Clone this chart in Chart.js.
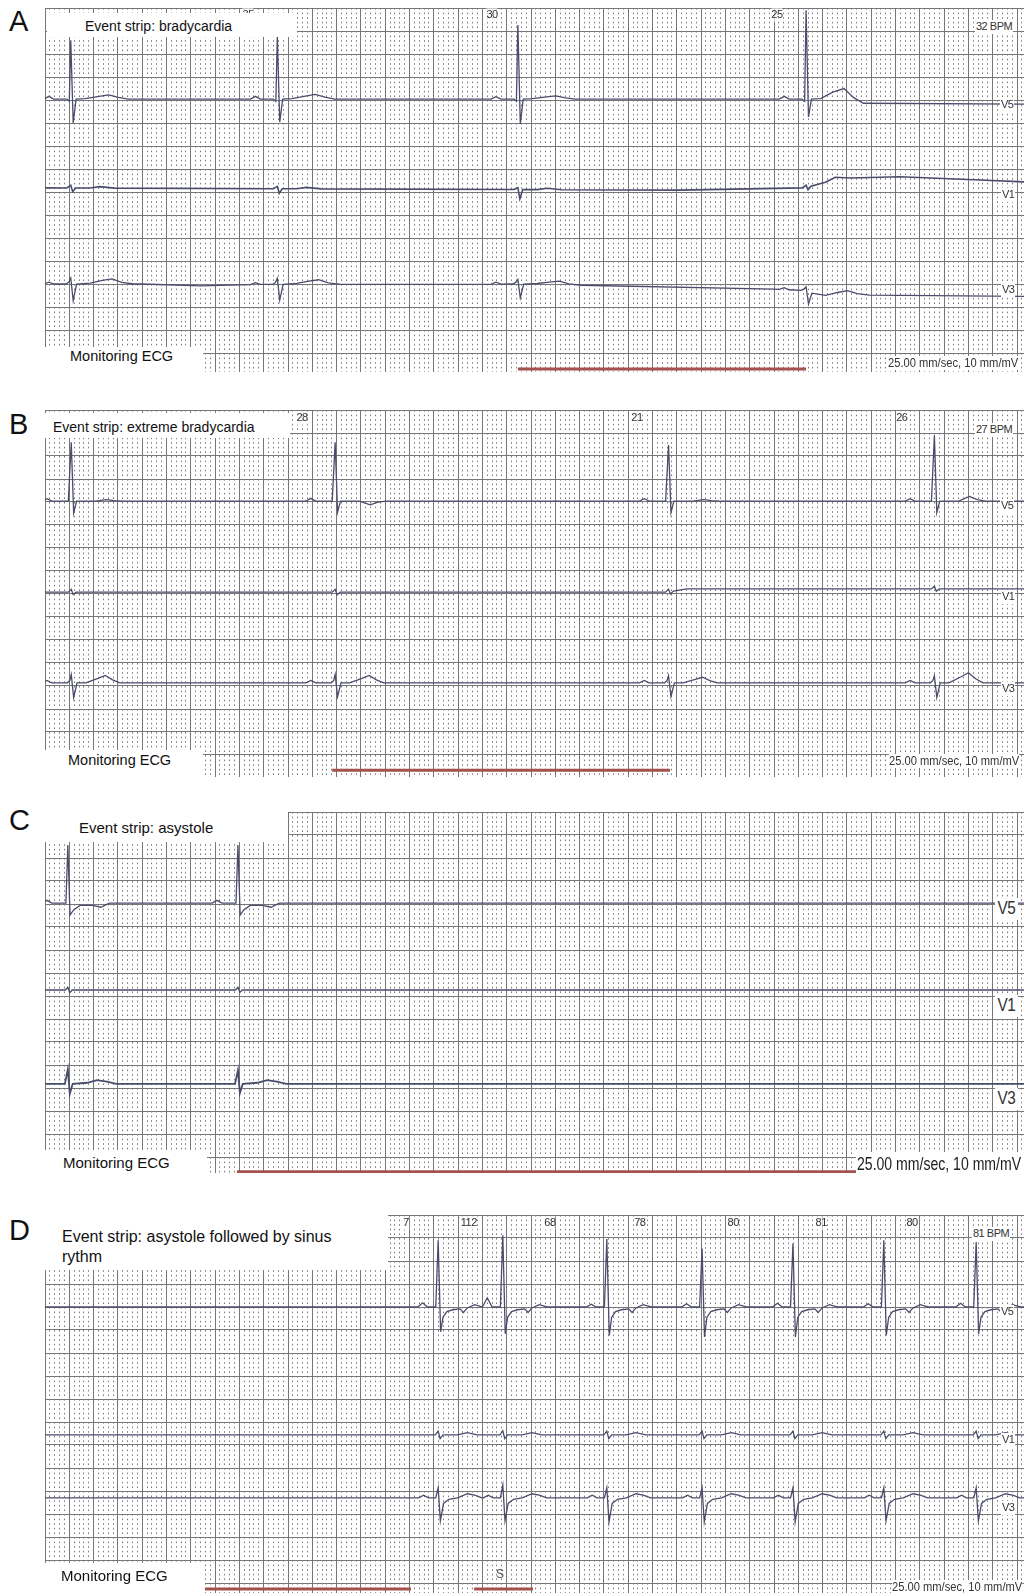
<!DOCTYPE html>
<html><head><meta charset="utf-8">
<script src="https://cdn.jsdelivr.net/npm/chart.js@4.4.0/dist/chart.umd.min.js"></script>
<style>
body{margin:0;background:#fff;}
#page{position:relative;width:1024px;height:1593px;overflow:hidden;font-family:"Liberation Sans",Arial,sans-serif;}
</style></head><body><div id="page"></div>
<script>
// ================= DATA (x in mm of paper at 25 mm/s, y in mm at 10 mm/mV) =================
// ---- Panel A : bradycardia ----
const A_beats = [5.3, 47.8, 97.3, 156.6];
const A_V5_R = [12.8, 13.5, 16.1, 19.3];
const A_V5_S = [-5.2, -5.0, -5.4, -3.9];
const A_V5_T = [0.9, 1.0, 0.7, 2.8];
const A_V5_P = [0.6, 0.6, 0.5, 0.6];
const A_V5_base = [[0,60.2],[161,60.2],[167,59.3],[201.5,59.1]];
const A_V1_R = [0.6, 0.5, 0.4, 0.5];
const A_V1_S = [-0.8, -1.0, -2.0, -0.6];
const A_V1_T = [0.3, 0.3, 0.3, 0.5];
const A_V1_base = [[0,40.9],[130.7,40.4],[156.4,40.9],[163.6,43.0],[175.9,43.3],[192.4,42.6],[201.5,42.2]];
const A_V3_R = [1.3, 1.3, 1.0, 1.0];
const A_V3_S = [-3.6, -3.4, -3.0, -2.6];
const A_V3_T = [1.1, 1.0, 0.8, 1.0];
const A_V3_P = [0.4, 0.4, 0.4, 0.4];
const A_V3_base = [[0,20.0],[20,20.0],[32,19.6],[44,19.9],[97,20.0],[150,18.9],[156,18.6],[160,17.3],[166,17.6],[201.5,17.3]];
const A_rateX = [41.8, 92.0, 150.6];
const A_rateVal = ['35', '30', '25'];
const A_rateNow = '32 BPM';
const A_events = [[97.3, 156.6]];

// ---- Panel B : extreme bradycardia ----
const B_beats = [5.4, 59.7, 128.3, 183.0];
const B_V5_R = [12.8, 12.8, 12.2, 14.3];
const B_V5_S = [-2.6, -2.4, -2.5, -2.5];
const B_V5_T = [0.3, -0.8, 0.3, 1.0];
const B_V5_P = [0.5, 0.6, 0.5, 0.5];
const B_V5_base = [[0,60.2],[201.5,60.2]];
const B_V1_R = [0.6, 0.6, 0.6, 0.6];
const B_V1_S = [-0.5, -0.6, -0.5, -0.5];
const B_V1_base = [[0,40.4],[128,40.4],[132,41.1],[201.5,41.1]];
const B_V3_R = [1.8, 1.8, 1.5, 1.5];
const B_V3_S = [-3.2, -3.0, -3.0, -3.2];
const B_V3_T = [1.6, 1.6, 1.2, 2.2];
const B_V3_P = [0.5, 0.5, 0.5, 0.5];
const B_V3_base = [[0,20.7],[201.5,20.7]];
const B_rateX = [52.9, 121.8, 176.3];
const B_rateVal = ['28', '21', '26'];
const B_rateNow = '27 BPM';
const B_events = [[59.1, 128.6]];

// ---- Panel C : asystole ----
const C_beats = [4.7, 39.7];
const C_V5_R = [12.6, 12.6];
const C_V5_S = [-2.6, -2.6];
const C_V5_P = [0.6, 0.6];
const C_V5_base = [[0,60.2],[201.5,60.2]];
const C_V1_R = [0.6, 0.6];
const C_V1_S = [-0.6, -0.5];
const C_V1_base = [[0,41.3],[201.5,41.3]];
const C_V3_R = [3.2, 3.0];
const C_V3_S = [-2.2, -2.0];
const C_V3_T = [0.8, 0.8];
const C_V3_base = [[0,20.9],[201.5,20.9]];
const C_events = [[39.5, 166.9]];

// ---- Panel D : asystole followed by sinus rhythm ----
const D_beats = [80.9, 94.2, 115.6, 135.2, 153.9, 172.6, 191.6];
const D_V5_R = [14.5, 15.6, 14.8, 12.7, 13.8, 14.5, 14.1];
const D_V5_S = [-5.4, -5.8, -6.2, -6.5, -6.5, -6.2, -5.8];
const D_V5_P = [0.9, 2.0, 0.6, 0.7, 0.8, 0.7, 0.8];
const D_V5_base = [[0,60.0],[201.5,60.0]];
const D_V1_R = [0.8, 0.9, 0.8, 0.8, 0.8, 0.8, 0.8];
const D_V1_S = [-0.8, -0.8, -0.8, -0.8, -0.8, -0.8, -0.8];
const D_V1_base = [[0,32.2],[201.5,32.2]];
const D_V3_R = [2.2, 2.8, 2.2, 2.2, 2.2, 2.2, 2.2];
const D_V3_S = [-5.0, -5.0, -5.2, -5.2, -5.2, -5.0, -5.0];
const D_V3_base = [[0,18.5],[201.5,18.5]];
const D_rateX = [74.3, 87.2, 103.9, 122.4, 141.6, 159.7, 178.4];
const D_rateVal = ['7', '112', '68', '78', '80', '81', '80'];
const D_rateNow = '81 BPM';
const D_events = [[0, 75.3], [88.3, 100.4]];

// Beat shapes read from the strips: [dx mm, dy mm] or [dx, key of per-beat array, factor]
const TPL_A_V5 = [[-5.5,0],[-4.5,'P'],[-3.5,0],[-0.8,0],[-0.3,-0.5],[0,'R'],[0.5,'S'],[1.1,0],[3,0.1],[5.5,'T',0.6],[7.8,'T'],[9.8,'T',0.4],[11.8,0]];
const TPL_A_V1 = [[-0.8,0],[0,'R'],[0.4,'S'],[1.0,0],[4,0],[6,'T'],[9,0]];
const TPL_A_V3 = [[-5.5,0],[-4.5,'P'],[-3.5,0],[-1.0,0],[-0.4,0.4],[0,'R'],[0.5,'S'],[1.2,0],[4,0.2],[6.5,'T',0.7],[8.5,'T'],[10.5,'T',0.3],[13,0]];
const TPL_B_V5 = [[-6,0],[-5,'P'],[-4,0],[-0.6,0],[0,'R'],[0.5,'S'],[1.1,0],[5,0],[7.2,'T'],[8.8,'T',0.3],[10.5,0]];
const TPL_B_V1 = [[-0.6,0],[0,'R'],[0.4,'S'],[1.0,0]];
const TPL_B_V3 = [[-6,0],[-5,'P'],[-4,0],[-0.8,0],[-0.3,0.5],[0,'R'],[0.5,'S'],[1.2,0],[3,0],[5.5,'T',0.6],[7,'T'],[8.5,'T',0.4],[10,0]];
const TPL_C_V5 = [[-5.3,0],[-4.3,'P'],[-3.3,0],[-0.4,0],[0,'R'],[0.45,'S'],[1.2,-1.5],[2.5,-0.5],[5,-0.5],[6.8,-0.9],[8.5,0]];
const TPL_C_V1 = [[-0.5,0],[0,'R'],[0.4,'S'],[0.9,0]];
const TPL_C_V3 = [[-0.6,0],[0,'R'],[0.4,'S'],[1.0,0],[4,'T',0.3],[6,'T'],[8,'T',0.6],[10,0]];
const TPL_D_V5 = [[-4.2,0],[-3.2,'P'],[-2.2,0],[-0.5,0],[0,'R'],[0.5,'S'],[1.0,-2.2],[1.8,-1.0],[3,-0.6],[4.5,-0.4],[5.2,-1.2],[6,-0.2],[7.5,0.5],[8.5,0.2],[9.2,0]];
const TPL_D_V1 = [[-0.6,0],[0,'R'],[0.4,'S'],[1.0,0],[4,0],[6,0.5],[8,0]];
const TPL_D_V3 = [[-4,0],[-3,0.6],[-2,0],[-0.5,0],[0,'R'],[0.45,'S'],[1.1,-1.2],[2.2,-0.3],[4,0],[6,0.9],[7.5,0.6],[9,0]];

// ================= RENDERING =================
const page = document.getElementById('page');
const MMX = 4.86, MMY = 4.6, GX = 45, GW = 979;
const TRACE = '#4a4c6c', RED = '#a4524e';
const FONT = '"Liberation Sans", Arial, sans-serif';

function mk(css, txt){ const e=document.createElement('div'); e.style.position='absolute'; Object.assign(e.style, css); if(txt!=null) e.textContent=txt; page.appendChild(e); return e; }
function box(l,t,w,h){ return mk({left:l+'px',top:t+'px',width:w+'px',height:h+'px',background:'#fff'}); }
function text(s,l,cy,size,extra){ return mk(Object.assign({left:l+'px',top:(cy-size*0.6)+'px',fontSize:size+'px',lineHeight:(size*1.2)+'px',whiteSpace:'nowrap',color:'#111',fontFamily:FONT}, extra||{}), s); }

function baseAt(base, x){
  if (x <= base[0][0]) return base[0][1];
  for (let i=1;i<base.length;i++){ const [x1,y1]=base[i]; if (x<=x1){ const [x0,y0]=base[i-1]; return y0+(y1-y0)*(x-x0)/(x1-x0);} }
  return base[base.length-1][1];
}
function buildTrace(beats, L){
  const tpl=L.tpl, lo=tpl[0][0], hi=tpl[tpl.length-1][0];
  const pts=[];
  L.base.forEach(([x,y])=>{ if(!beats.some(b=>x>b+lo && x<b+hi)) pts.push({x,y}); });
  beats.forEach((b,i)=>tpl.forEach(([dx,v,f])=>{
    const dy = typeof v==='number' ? v : L[v][i]*(f===undefined?1:f);
    pts.push({x:b+dx, y:baseAt(L.base,b+dx)+dy});
  }));
  pts.sort((p,q)=>p.x-q.x);
  return pts;
}

function panel(cfg){
  const cv=document.createElement('canvas');
  cv.width=GW; cv.height=cfg.h;
  Object.assign(cv.style,{position:'absolute',left:GX+'px',top:cfg.top+'px',width:GW+'px',height:cfg.h+'px'});
  page.appendChild(cv);
  const xMax=GW/MMX, yMax=80, yMin=80-cfg.h/MMY;
  const xt=[]; for(let v=0; v<=xMax; v++) xt.push(v);
  const yt=[]; for(let v=Math.ceil(yMin); v<=yMax; v++) yt.push(v);
  const ds=cfg.leads.map(L=>({data:buildTrace(cfg.beats,L),borderColor:TRACE,borderWidth:L.w||1.3,pointRadius:0,showLine:true,tension:0}));
  cfg.events.forEach(([a,b])=>ds.push({data:[{x:a,y:cfg.barY},{x:b,y:cfg.barY}],borderColor:RED,borderWidth:3,pointRadius:0,showLine:true}));
  const major = c => c.tick && Math.round(c.tick.value)%5===0;
  const chart = new Chart(cv,{type:'scatter',data:{datasets:ds},options:{
    animation:false,responsive:false,devicePixelRatio:1,events:[],
    layout:{padding:0},
    plugins:{legend:{display:false},tooltip:{enabled:false}},
    scales:{
      x:{type:'linear',min:0,max:xMax,afterBuildTicks:s=>{s.ticks=xt.map(v=>({value:v}));},
         ticks:{display:false},
         grid:{drawTicks:false,lineWidth:1,color:c=>major(c)?'#777777':'#7c7c7c'},
         border:{display:false,dash:c=>major(c)?[]:[1.6,MMY-1.6]}},
      y:{type:'linear',min:yMin,max:yMax,afterBuildTicks:s=>{s.ticks=yt.map(v=>({value:v}));},
         ticks:{display:false},
         grid:{drawTicks:false,lineWidth:1,color:c=>major(c)?'#777777':'rgba(0,0,0,0)'},
         border:{display:false}}
    }}});
  (cfg.rateX||[]).forEach((t,i)=>{
    const px=GX+chart.scales.x.getPixelForValue(t);
    text(cfg.rateVal[i],px,cfg.rateY,11,{transform:'translateX(-50%)',color:'#333',letterSpacing:'-0.5px',background:'rgba(255,255,255,0.6)'});
  });
  return chart;
}

const L = (tpl,base,extra)=>Object.assign({tpl,base},extra);

panel({top:8,h:364,beats:A_beats,events:A_events,barY:1.5,rateX:A_rateX,rateVal:A_rateVal,rateY:15,leads:[
  L(TPL_A_V5,A_V5_base,{R:A_V5_R,S:A_V5_S,T:A_V5_T,P:A_V5_P}),
  L(TPL_A_V1,A_V1_base,{R:A_V1_R,S:A_V1_S,T:A_V1_T,w:1.6}),
  L(TPL_A_V3,A_V3_base,{R:A_V3_R,S:A_V3_S,T:A_V3_T,P:A_V3_P})]});
panel({top:410,h:367,beats:B_beats,events:B_events,barY:1.7,rateX:B_rateX,rateVal:B_rateVal,rateY:418,leads:[
  L(TPL_B_V5,B_V5_base,{R:B_V5_R,S:B_V5_S,T:B_V5_T,P:B_V5_P}),
  L(TPL_B_V1,B_V1_base,{R:B_V1_R,S:B_V1_S}),
  L(TPL_B_V3,B_V3_base,{R:B_V3_R,S:B_V3_S,T:B_V3_T,P:B_V3_P})]});
panel({top:812,h:361,beats:C_beats,events:C_events,barY:1.8,leads:[
  L(TPL_C_V5,C_V5_base,{R:C_V5_R,S:C_V5_S,P:C_V5_P}),
  L(TPL_C_V1,C_V1_base,{R:C_V1_R,S:C_V1_S}),
  L(TPL_C_V3,C_V3_base,{R:C_V3_R,S:C_V3_S,T:C_V3_T,w:1.8})]});
panel({top:1215,h:378,beats:D_beats,events:D_events,barY:-1.3,rateX:D_rateX,rateVal:D_rateVal,rateY:1223,leads:[
  L(TPL_D_V5,D_V5_base,{R:D_V5_R,S:D_V5_S,P:D_V5_P}),
  L(TPL_D_V1,D_V1_base,{R:D_V1_R,S:D_V1_S}),
  L(TPL_D_V3,D_V3_base,{R:D_V3_R,S:D_V3_S})]});

// ---- text & label boxes ----
const cond = (s)=>({transform:'scaleX('+s+')',transformOrigin:'left center'});
const leadCss = {background:'#fff',color:'#333',padding:'0 1px',letterSpacing:'-0.5px'};
// A
text('A',9,21,29);
box(47,13,250,24); text('Event strip: bradycardia',85,26,14);
box(45,347,158,25); text('Monitoring ECG',70,357,14.5);
text('25.00 mm/sec, 10 mm/mV',888,363,12,Object.assign({background:'#fff',color:'#333'},cond(0.93)));
text(A_rateNow,975,27,11,leadCss);
text('V5',1000,105,11,leadCss); text('V1',1001,195,11,leadCss); text('V3',1001,290,11,leadCss);
// B
text('B',9,424,29);
box(43,413,247,25); text('Event strip: extreme bradycardia',53,427,14);
box(45,750,158,27); text('Monitoring ECG',68,761,14.5);
text('25.00 mm/sec, 10 mm/mV',889,761,12,Object.assign({background:'#fff',color:'#333'},cond(0.93)));
text(B_rateNow,975,430,11,leadCss);
text('V5',1000,506,11,leadCss); text('V1',1001,597,11,leadCss); text('V3',1001,689,11,leadCss);
// C
text('C',9,820,29);
box(43,808,245,34); text('Event strip: asystole',79,828,15);
box(45,1150,162,23); text('Monitoring ECG',63,1163,15);
box(856,1152,168,21); text('25.00 mm/sec, 10 mm/mV',857,1164,19,Object.assign({color:'#222'},cond(0.74)));
const leadC = Object.assign({},leadCss,cond(0.85),{padding:'0 3px'});
text('V5',995,909,18,leadC); text('V1',995,1006,18,leadC); text('V3',995,1099,18,leadC);
// D
text('D',9,1230,29);
box(43,1215,345,55);
mk({left:'62px',top:'1227px',fontSize:'16px',lineHeight:'20px',fontFamily:FONT,color:'#111',width:'285px'},'Event strip: asystole followed by sinus rythm');
box(43,1563,162,30); text('Monitoring ECG',61,1576,15);
text('S',496,1574,12,{color:'#555'});
text('25.00 mm/sec, 10 mm/mV',892,1587,12,Object.assign({background:'#fff',color:'#333'},cond(0.93)));
text(D_rateNow,972,1234,11,leadCss);
text('V5',1000,1312,11,leadCss); text('V1',1001,1440,11,leadCss); text('V3',1001,1508,11,leadCss);
</script></body></html>
